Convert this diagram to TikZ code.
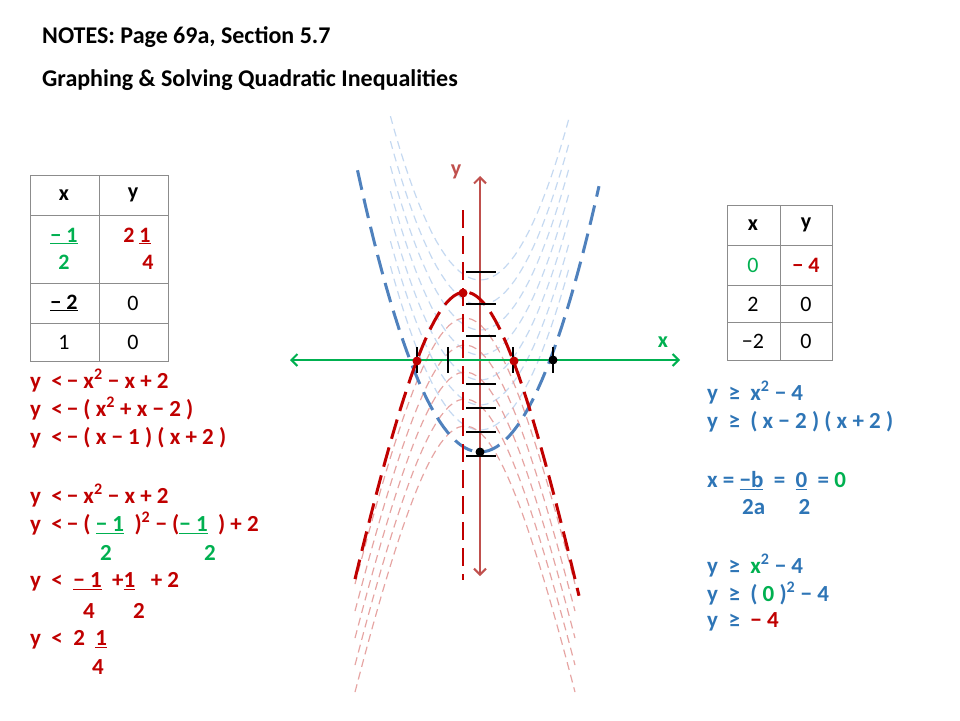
\documentclass[tikz,border=0pt]{standalone}
\usepackage{fontspec}
\setmainfont{Carlito}
\usetikzlibrary{arrows.meta}
\definecolor{darkred}{HTML}{C00000}
\definecolor{axisred}{HTML}{C0504D}
\definecolor{mygreen}{HTML}{00B050}
\definecolor{myblue}{HTML}{2E75B6}
\definecolor{curveblue}{HTML}{4F81BD}
\definecolor{paleblue}{HTML}{C5D9F1}
\definecolor{palered}{HTML}{E6A5A3}
\begin{document}
\begin{tikzpicture}[x=1pt,y=-1pt]

\tikzstyle{txt}=[anchor=west, inner sep=0pt, font=\fontsize{23}{27}\selectfont\bfseries]
\tikzstyle{redtxt}=[txt, text=darkred]
\tikzstyle{bluetxt}=[txt, text=myblue]
\tikzstyle{cell}=[inner sep=0pt, font=\fontsize{22}{26}\selectfont\bfseries]
\tikzstyle{plaincell}=[inner sep=0pt, font=\fontsize{22}{26}\selectfont]
\tikzstyle{grid}=[draw=black!45, line width=0.8pt]
\tikzstyle{tick}=[black, line width=2pt]
\tikzstyle{dot}=[circle, inner sep=0pt, minimum size=9pt]

\useasboundingbox (0,0) rectangle (960,720);

% title
\node[txt, font=\fontsize{24}{28}\selectfont\bfseries] (title) at (42,37) {NOTES: Page 69a, Section 5.7};
\node[txt, font=\fontsize{24}{28}\selectfont\bfseries] (subtitle) at (42,80) {Graphing \& Solving Quadratic Inequalities};

% faint curves
\foreach \v in {280,305,330,355,380,405,430}
  \draw[paleblue, dash pattern=on 8pt off 5pt, line width=1.2pt]
    plot[domain=-3.2:3.2, samples=40] ({480+28*\x},{\v-16*\x*\x});
\foreach \v in {318,345,372,399,426}
  \draw[palered, dash pattern=on 8pt off 5pt, line width=1.2pt]
    plot[domain=-110:110, samples=50] ({465+\x},{\v+380*(sqrt(1+(\x/80)^2)-1)});

% axes
\draw[axisred, line width=2pt, {Straight Barb[length=6pt,width=12pt]}-{Straight Barb[length=6pt,width=12pt]}]
  (480,176) -- (480,576);
\draw[mygreen, line width=2pt, {Straight Barb[length=6pt,width=12pt]}-{Straight Barb[length=6pt,width=12pt]}]
  (290,360) -- (680,360);
\node[cell, text=axisred] (ylab) at (456,172) {y};
\node[cell, text=mygreen] (xlab) at (663,342) {x};

% main curves
\draw[curveblue, line width=3pt, dash pattern=on 20pt off 9pt]
  plot[domain=-3.5:3.4, samples=60] ({480+35*\x},{452-23*\x*\x});
\draw[darkred, line width=3pt, dash pattern=on 20pt off 9pt]
  plot[domain=-110:114, samples=60] ({465+\x},{292+410*(sqrt(1+(\x/80)^2)-1)});
\draw[darkred, line width=2.5pt, dash pattern=on 18pt off 8pt] (463,210) -- (463,580);

% ticks
\foreach \t in {272,304,336,384,408,432,456}
  \draw[tick] (466,\t) -- (496,\t);
\foreach \t in {417,448,513,553}
  \draw[tick] (\t,347) -- (\t,373);

% points
\node[dot, fill=darkred] (vertex) at (463,293) {};
\node[dot, fill=darkred] (rootl) at (417,361) {};
\node[dot, fill=darkred] (rootr) at (514,361) {};
\node[dot, fill=black] (broot) at (553,360) {};
\node[dot, fill=black] (bvertex) at (480,452) {};

% left table
\draw[grid] (30,175) rectangle (168,361);
\draw[grid] (99,175) -- (99,361);
\foreach \r in {215,283,323} \draw[grid] (30,\r) -- (168,\r);
\node[cell] (lx) at (64,195) {x};
\node[cell] (ly) at (133,195) {y};
\node[cell, text=mygreen] (lxa) at (64,236) {\underline{− 1}};
\node[cell, text=mygreen] (lxb) at (64,262) {2};
\node[cell, text=darkred] (lya) at (137,236) {2 \underline{1}};
\node[cell, text=darkred] (lyb) at (148,262) {4};
\node[cell] (lxc) at (64,303) {\underline{− 2}};
\node[plaincell] (lyc) at (133,303) {0};
\node[plaincell] (lxd) at (64,342) {1};
\node[plaincell] (lyd) at (133,342) {0};

% right table
\draw[grid] (727,205) rectangle (832,360);
\draw[grid] (780,205) -- (780,360);
\foreach \r in {245,285,322} \draw[grid] (727,\r) -- (832,\r);
\node[cell] (rx) at (753,225) {x};
\node[cell] (ry) at (806,225) {y};
\node[plaincell, text=mygreen] (rxa) at (753,265) {0};
\node[cell, text=darkred] (rya) at (806,265) {− 4};
\node[plaincell] (rxb) at (753,304) {2};
\node[plaincell] (ryb) at (806,304) {0};
\node[plaincell] (rxc) at (753,341) {−2};
\node[plaincell] (ryc) at (806,341) {0};

% left work
\node[redtxt] (la) at (30,381) {y \ <\,− x\textsuperscript{2} − x + 2};
\node[redtxt] (lb) at (30,409) {y \ <\,− ( x\textsuperscript{2} + x − 2 )};
\node[redtxt] (lc) at (30,438) {y \ <\,− ( x − 1 ) ( x + 2 )};
\node[redtxt] (ld) at (30,496) {y \ <\,− x\textsuperscript{2} − x + 2};
\node[redtxt] (le) at (30,524) {y \ <\,− ( \textcolor{mygreen}{\underline{− 1}} \ )\textsuperscript{2} − (\textcolor{mygreen}{\underline{− 1}} \ ) + 2};
\node[redtxt, text=mygreen] (lf) at (100,553) {2};
\node[redtxt, text=mygreen] (lg) at (204,553) {2};
\node[redtxt] (lh) at (30,582) {y \ < \ \underline{− 1} \ +\underline{1} \ \ + 2};
\node[redtxt] (li) at (83,611) {4};
\node[redtxt] (lj) at (133,611) {2};
\node[redtxt] (lk) at (30,640) {y \ < \ 2 \ \underline{1}};
\node[redtxt] (ll) at (92,667) {4};

% right work
\node[bluetxt] (ra) at (707,393) {y \ ≥ \ x\textsuperscript{2} − 4};
\node[bluetxt] (rb) at (707,422) {y \ ≥ \ ( x − 2 ) ( x + 2 )};
\node[bluetxt] (rc) at (707,481) {x = \underline{−b} \ = \ \underline{0} \ = \textcolor{mygreen}{0}};
\node[bluetxt] (rd) at (742,507) {2a \quad\ 2};
\node[bluetxt] (re) at (707,566) {y \ ≥ \ \textcolor{mygreen}{x}\textsuperscript{2} − 4};
\node[bluetxt] (rf) at (707,594) {y \ ≥ \ ( \textcolor{mygreen}{0} )\textsuperscript{2} − 4};
\node[bluetxt] (rg) at (707,622) {y \ ≥ \ \textcolor{darkred}{− 4}};

\end{tikzpicture}
\end{document}
